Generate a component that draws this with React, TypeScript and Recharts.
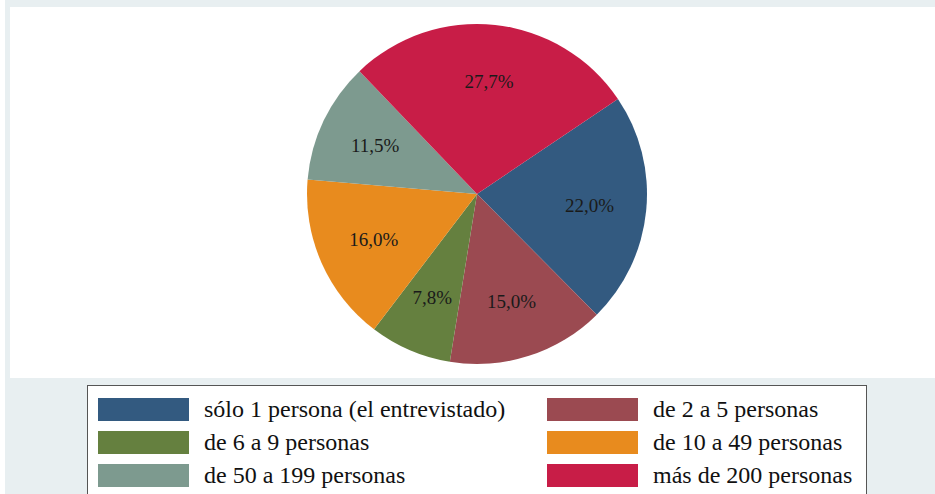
import { PieChart, Pie, Cell, Legend } from 'recharts';

const categories = [
  'sólo 1 persona (el entrevistado)',
  'de 2 a 5 personas',
  'de 6 a 9 personas',
  'de 10 a 49 personas',
  'de 50 a 199 personas',
  'más de 200 personas',
];
const shares = [22.0, 15.0, 7.8, 16.0, 11.5, 27.7];
const colors = ['#335a80', '#9b4a51', '#65803f', '#e88b1e', '#7d9a8f', '#c81d47'];

const data = categories.map((name, i) => ({ name, value: shares[i] }));

const FONT = 'Liberation Serif, Tinos, DejaVu Serif, serif';
const RADIAN = Math.PI / 180;

function renderLabel(props: any) {
  const { cx, cy, midAngle, value } = props;
  const r = 113;
  const x = cx + r * Math.cos(-midAngle * RADIAN);
  const y = cy + r * Math.sin(-midAngle * RADIAN);
  return (
    <text
      x={x}
      y={y}
      textAnchor="middle"
      dominantBaseline="central"
      fill="#1a1a1a"
      style={{ fontFamily: FONT, fontSize: 19 }}
    >
      {value.toFixed(1).replace('.', ',')}%
    </text>
  );
}

function LegendBox() {
  return (
    <div
      style={{
        position: 'absolute',
        left: 87,
        top: 385,
        width: 780,
        height: 120,
        background: '#fff',
        border: '1px solid #555',
        boxSizing: 'border-box',
      }}
    >
      {categories.map((name, i) => {
        const col = i % 2;
        const row = Math.floor(i / 2);
        return (
          <div
            key={name}
            style={{
              position: 'absolute',
              left: col === 0 ? 10 : 459,
              top: 11 + row * 33,
              display: 'flex',
              alignItems: 'center',
              height: 24,
            }}
          >
            <div style={{ width: 91, height: 23, background: colors[i], flexShrink: 0 }} />
            <span
              style={{
                marginLeft: 15,
                fontFamily: FONT,
                fontSize: 24,
                lineHeight: '24px',
                color: '#111',
                whiteSpace: 'nowrap',
              }}
            >
              {name}
            </span>
          </div>
        );
      })}
    </div>
  );
}

export default function App() {
  return (
    <div
      style={{
        position: 'absolute',
        left: 0,
        top: 0,
        width: 935,
        height: 494,
        background: '#e8eff1',
        overflow: 'hidden',
        fontFamily: FONT,
      }}
    >
      <div style={{ position: 'absolute', left: 0, top: 0, width: 5, height: 494, background: '#fff' }} />
      <div
        style={{
          position: 'absolute',
          left: 10,
          top: 7,
          width: 925,
          height: 371,
          background: '#fff',
        }}
      >
        <PieChart width={925} height={371}>
          <Pie
            data={data}
            dataKey="value"
            nameKey="name"
            cx={462}
            cy={182}
            outerRadius={170}
            startAngle={34}
            endAngle={-326}
            stroke="none"
            label={renderLabel}
            labelLine={false}
            isAnimationActive={false}
          >
            {data.map((d, i) => (
              <Cell key={d.name} fill={colors[i]} />
            ))}
          </Pie>
          <Legend content={() => null} />
        </PieChart>
      </div>
      <LegendBox />
    </div>
  );
}
